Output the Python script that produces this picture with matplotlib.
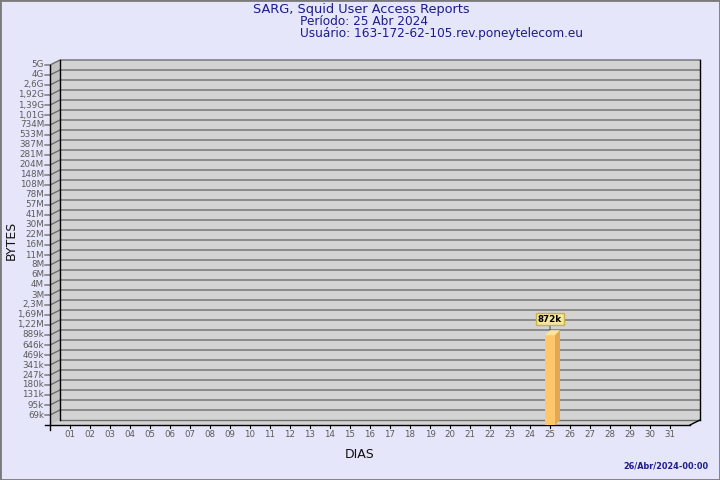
import matplotlib
matplotlib.use("Agg")
import matplotlib.pyplot as plt
from matplotlib.patches import Polygon, Rectangle
from matplotlib.ticker import NullLocator

# ---------------- data ----------------
title = "SARG, Squid User Access Reports"
period = "Período: 25 Abr 2024"
user = "Usuário: 163-172-62-105.rev.poneytelecom.eu"
stamp = "26/Abr/2024-00:00"
x_title = "DIAS"
y_title = "BYTES"

days = list(range(1, 32))
day_labels = [f"{d:02d}" for d in days]
bytes_per_day = [0] * 31
bytes_per_day[24] = 872_000          # day 25
bar_labels = {25: "872k"}

y_labels = ["69k", "95k", "131k", "180k", "247k", "341k", "469k", "646k", "889k",
            "1,22M", "1,69M", "2,3M", "3M", "4M", "6M", "8M", "11M", "16M", "22M",
            "30M", "41M", "57M", "78M", "108M", "148M", "204M", "281M", "387M",
            "533M", "734M", "1,01G", "1,39G", "1,92G", "2,6G", "4G", "5G"]

# scale of the SARG graph: geometric steps
Y_BASE = 50_000
Y_STEP = 1.375

# ---------------- style ----------------
BG = "#E6E6FA"
WALL = "#D3D3D3"
SIDE = "#C2C2C2"
GRID = "#6E6E6E"
NAVY = "#1C1C8C"
TICKC = "#5A5A5A"
BAR_FRONT = "#FFC66B"
BAR_TOP = "#FFE59A"
BAR_SIDE = "#E2A954"

W, H = 720, 480
fig = plt.figure(figsize=(7.2, 4.8), dpi=100, facecolor=BG)
fig.patches.append(Rectangle((0, 0), 1, 1, transform=fig.transFigure,
                             fill=False, ec="#7A7A7A", lw=2))

ax = fig.add_axes([60 / W, 60 / H, 640 / W, 360 / H])
ax.set_xlim(0, 32)
ax.set_yscale("log")
ymin = Y_BASE
ymax = Y_BASE * Y_STEP ** len(y_labels)
ax.set_ylim(ymin, ymax)
ax.set_facecolor(WALL)
for s in ax.spines.values():
    s.set_visible(False)
ax.xaxis.set_major_locator(NullLocator())
ax.xaxis.set_minor_locator(NullLocator())
ax.yaxis.set_major_locator(NullLocator())
ax.yaxis.set_minor_locator(NullLocator())

DX = -0.5                 # front plane shift (days)
FY = Y_STEP ** -0.5       # front plane shift (half a level)

kw = dict(clip_on=False)
# left wall and floor
ax.add_patch(Polygon([(0, ymin), (0, ymax), (DX, ymax * FY), (DX, ymin * FY)],
                     closed=True, fc=SIDE, ec="none", zorder=1, **kw))
ax.add_patch(Polygon([(0, ymin), (32, ymin), (32 + DX, ymin * FY), (DX, ymin * FY)],
                     closed=True, fc=WALL, ec="none", zorder=1, **kw))

# grid lines with y ticks
ytick_vals = [Y_BASE * Y_STEP ** (i + 1) for i in range(len(y_labels))]
for v, lab in zip(ytick_vals, y_labels):
    ax.plot([DX - 0.25, DX, 0, 32], [v * FY, v * FY, v, v], color=GRID, lw=1,
            zorder=2, **kw)
    ax.text(-0.8, v * FY, lab, ha="right", va="center", fontsize=6.3,
            color=TICKC, **kw)

# frame lines
ax.plot([0, 0], [ymin, ymax], color="black", lw=1, zorder=3, **kw)
ax.plot([32, 32], [ymin, ymax], color="black", lw=1, zorder=3, **kw)
ax.plot([DX, DX], [ymin * FY * FY, ymax * FY], color="black", lw=1, zorder=3, **kw)
ax.plot([0, 32], [ymin, ymin], color=GRID, lw=1, zorder=2, **kw)
ax.plot([DX - 0.25, 32 + DX], [ymin * FY, ymin * FY], color="black", lw=1, zorder=3, **kw)
ax.plot([32, 32 + DX], [ymin, ymin * FY], color="black", lw=1, zorder=3, **kw)

# x ticks
for d, lab in zip(days, day_labels):
    ax.plot([d + DX, d + DX], [ymin * FY, ymin * FY * Y_STEP ** -0.3],
            color="black", lw=0.8, zorder=3, **kw)
    ax.text(d + DX, ymin * FY * Y_STEP ** -0.5, lab, ha="center", va="top",
            fontsize=6.2, color=TICKC, **kw)

# bars
for d, val in zip(days, bytes_per_day):
    if val <= 0:
        continue
    fv = val * FY
    x0 = d + DX
    ax.add_patch(Rectangle((x0 - 0.25, ymin * FY), 0.5, fv - ymin * FY,
                           fc=BAR_FRONT, ec="none", zorder=5, **kw))
    ax.add_patch(Polygon([(x0 - 0.25, fv), (x0 + 0.25, fv), (x0 + 0.5, val), (x0, val)],
                         closed=True, fc=BAR_TOP, ec="none", zorder=5, **kw))
    ax.add_patch(Polygon([(x0 + 0.25, ymin * FY), (x0 + 0.5, ymin), (x0 + 0.5, val),
                          (x0 + 0.25, fv)],
                         closed=True, fc=BAR_SIDE, ec="none", zorder=5, **kw))
    if d in bar_labels:
        ax.annotate(bar_labels[d], xy=(x0, fv), xytext=(0, 16),
                    textcoords="offset pixels", ha="center", va="center",
                    fontsize=6.3, fontweight="bold", color="black", zorder=4,
                    bbox=dict(boxstyle="square,pad=0.2", fc="#F2E6A0",
                              ec="#C9B24A", lw=1),
                    arrowprops=dict(arrowstyle="-", color="#555555", lw=0.8,
                                    shrinkA=0, shrinkB=0),
                    annotation_clip=False)

# texts
fig.text(253 / W, 1 - 9.5 / H, title, ha="left", va="center", fontsize=9.3, color=NAVY)
fig.text(300 / W, 1 - 21.2 / H, period, ha="left", va="center", fontsize=8.7, color=NAVY)
fig.text(300 / W, 1 - 33.3 / H, user, ha="left", va="center", fontsize=8.7, color=NAVY)
fig.text(11 / W, 1 - 240 / H, y_title, rotation=90, ha="center", va="center",
         fontsize=9, color="#111111")
fig.text(360 / W, 1 - 455 / H, x_title, ha="center", va="center",
         fontsize=9, color="#111111")
fig.text(708 / W, 1 - 466 / H, stamp, ha="right", va="center", fontsize=5.9,
         fontweight="bold", color=NAVY)

fig.savefig("out.png", dpi=100, facecolor=BG)
